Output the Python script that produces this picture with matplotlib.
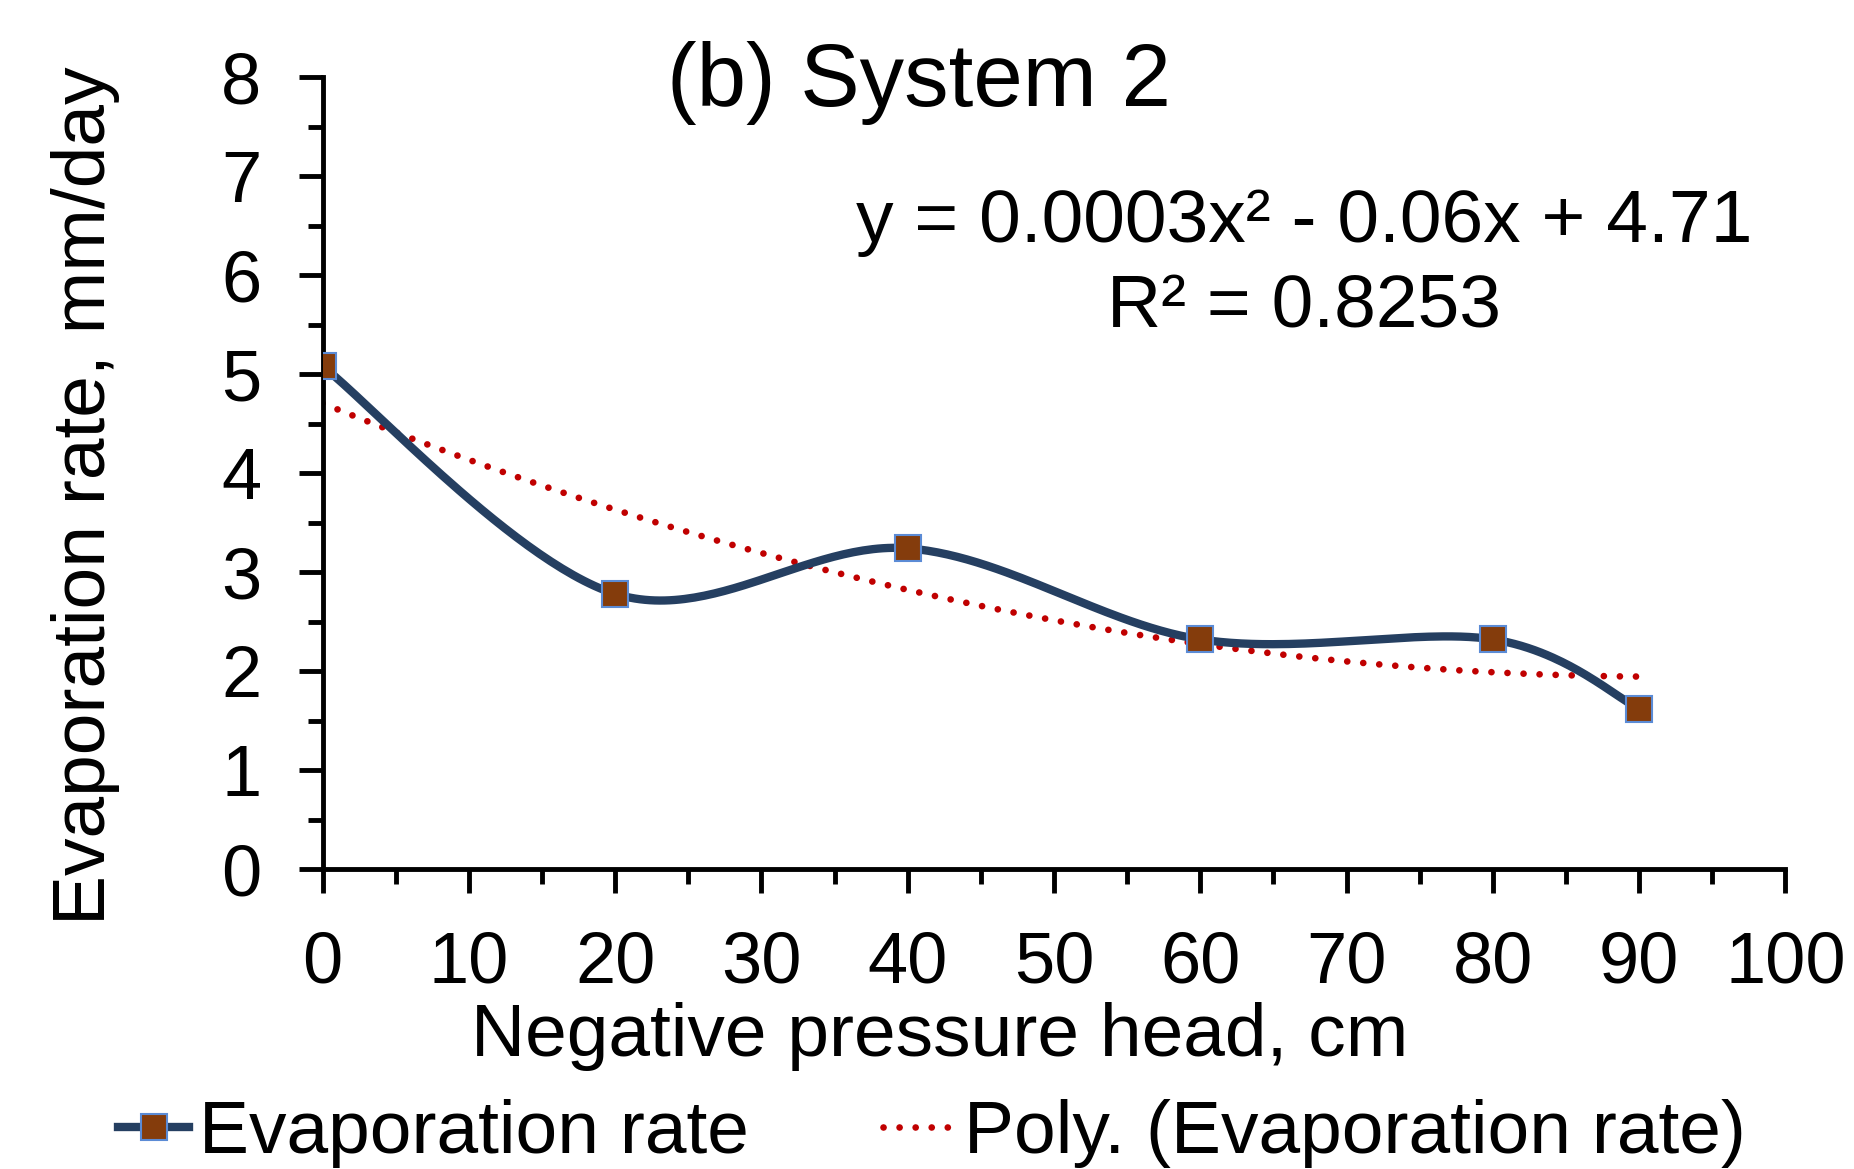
import numpy as np
import matplotlib
matplotlib.use("Agg")
import matplotlib.pyplot as plt
from matplotlib.lines import Line2D

# Data
pressure_head = [0, 20, 40, 60, 80, 90]
evap_rate = [5.08, 2.78, 3.24, 2.32, 2.32, 1.62]
x_ticks = [0, 10, 20, 30, 40, 50, 60, 70, 80, 90, 100]
y_ticks = [0, 1, 2, 3, 4, 5, 6, 7, 8]
title = "(b) System 2"
eq_text = "y = 0.0003x² - 0.06x + 4.71"
r2_text = "R² = 0.8253"

plt.rcParams['font.family'] = ['Liberation Sans', 'DejaVu Sans']

LINE_C = '#253F61'
MARK_FC = '#843C0C'
MARK_EC = '#5B8BD5'
TREND_C = '#C00000'


def catmull_rom(xs, ys, n=60):
    P = np.column_stack([xs, ys]).astype(float)
    P = np.vstack([P[0], P, P[-1]])
    out = []
    for i in range(1, len(P) - 2):
        p0, p1, p2, p3 = P[i - 1], P[i], P[i + 1], P[i + 2]
        c1 = p1 + (p2 - p0) / 6.0
        c2 = p2 - (p3 - p1) / 6.0
        t = np.linspace(0, 1, n)[:, None]
        seg = ((1 - t) ** 3) * p1 + 3 * ((1 - t) ** 2) * t * c1 + 3 * (1 - t) * t ** 2 * c2 + t ** 3 * p2
        out.append(seg if i == 1 else seg[1:])
    out = np.vstack(out)
    return out[:, 0], out[:, 1]


fig = plt.figure(figsize=(18.54, 11.69), dpi=100)
ax = fig.add_axes([0.174, 0.2566, 0.789, 0.6774])

sx, sy = catmull_rom(pressure_head, evap_rate)
ax.plot(sx, sy, color=LINE_C, lw=6, solid_capstyle='round', zorder=3)
ax.plot(pressure_head, evap_rate, ls='none', marker='s', ms=19, mfc=MARK_FC,
        mec=MARK_EC, mew=1.5, zorder=4)

coef = np.polyfit(pressure_head, evap_rate, 2)
tx = np.linspace(pressure_head[0], pressure_head[-1], 200)
ax.plot(tx, np.polyval(coef, tx), color=TREND_C, lw=4.8,
        ls=(0, (0.01, 2.4)), dash_capstyle='round', zorder=2)

ax.set_xlim(0, 100)
ax.set_ylim(0, 8)
ax.set_xticks(x_ticks)
ax.set_yticks(y_ticks)
ax.set_xticks(np.arange(5, 100, 10), minor=True)
ax.set_yticks(np.arange(0.5, 8, 1), minor=True)
for s in ['top', 'right']:
    ax.spines[s].set_visible(False)
for s in ['left', 'bottom']:
    ax.spines[s].set_linewidth(3.5)
    ax.spines[s].set_color('black')
ax.tick_params(which='major', length=17, width=3.5, labelsize=52, pad=27, color='black')
ax.tick_params(which='minor', length=11, width=3.5, color='black')

fig.text(0.4955, 0.929, title, ha='center', va='center', fontsize=64)
fig.text(0.7035, 0.810, eq_text, ha='center', va='center', fontsize=54)
fig.text(0.7035, 0.737, r2_text, ha='center', va='center', fontsize=54)
fig.text(0.507, 0.113, "Negative pressure head, cm", ha='center', va='center', fontsize=54)
fig.text(0.046, 0.576, "Evaporation rate, mm/day", ha='center', va='center',
         rotation=90, fontsize=54)

h1 = Line2D([], [], color=LINE_C, lw=6, marker='s', ms=19, mfc=MARK_FC, mec=MARK_EC, mew=1.5)
h2 = Line2D([], [], color=TREND_C, lw=4.8, ls=(0, (0.01, 2.4)), dash_capstyle='round')
fig.legend([h1, h2], ["Evaporation rate", "Poly. (Evaporation rate)"],
           loc='center', bbox_to_anchor=(0.5026, 0.030), ncol=2, frameon=False,
           fontsize=54, handlelength=0.95, handletextpad=0.13, columnspacing=1.78,
           borderaxespad=0)

fig.savefig('out.png', dpi=100)
